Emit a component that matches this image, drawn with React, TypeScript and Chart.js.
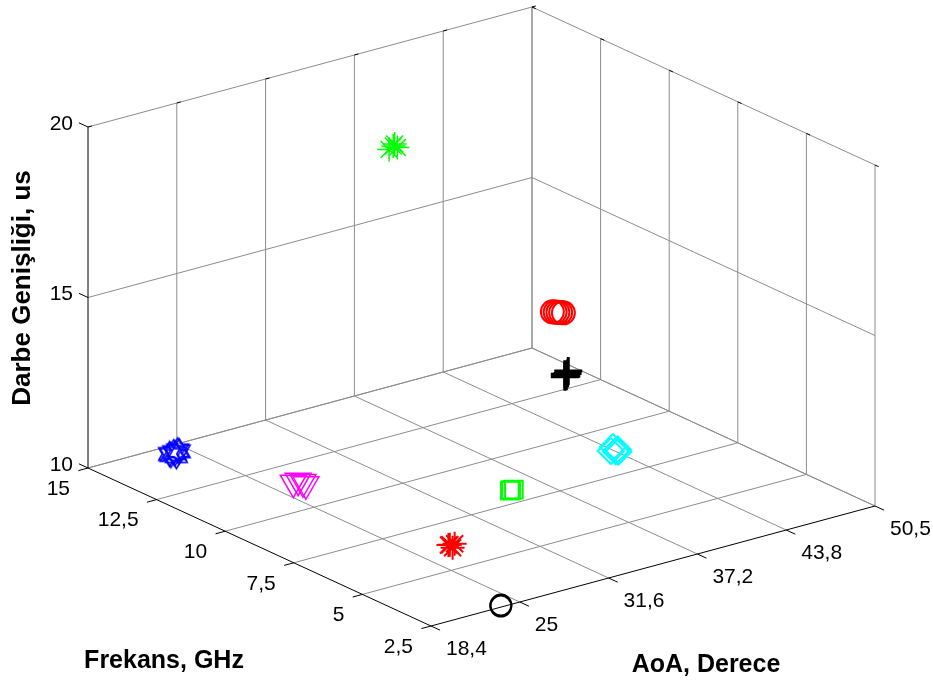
import React, { useEffect, useRef } from "react";
import { Chart, registerables } from "chart.js";

Chart.register(...registerables);

const W = 933;
const H = 688;

// ---- axes ----
const freqMin = 2.5;
const freqMax = 15;
const freqTicks = [2.5, 5, 7.5, 10, 12.5, 15];
const freqTickLabels = ["2,5", "5", "7,5", "10", "12,5", "15"];
const aoaMin = 18.4;
const aoaMax = 50.5;
const aoaTickLabels = ["18,4", "25", "31,6", "37,2", "43,8", "50,5"];
const pwMin = 10;
const pwMax = 20;
const pwTicks = [10, 15, 20];
const pwTickLabels = ["10", "15", "20"];

const xTitle = "Frekans, GHz";
const yTitle = "AoA, Derece";
const zTitle = "Darbe Genişliği, us";

// ---- emitters: [frekans GHz, AoA derece, darbe genişliği us] ----
const blueHexagram = [[14.6, 23.5, 10.0], [14.5, 23.9, 10.1], [14.7, 23.8, 9.9], [14.6, 24.2, 10.0], [14.4, 23.6, 10.0], [14.55, 23.7, 10.05], [14.65, 24.0, 9.95]];
const magentaTriangle = [[11.5, 26.3, 10.0], [11.45, 26.55, 10.05], [11.4, 26.8, 10.0], [11.42, 27.05, 9.9]];
const greenSquare = [[8.2, 35.5, 10.0], [8.15, 35.6, 10.02], [8.22, 35.45, 9.98]];
const redAsterisk = [[6.3, 27.3, 10.0], [6.2, 27.45, 10.05], [6.25, 27.4, 9.92], [6.3, 27.2, 10.0]];
const blackCircle = [[2.55, 23.55, 10.0], [2.6, 23.65, 10.0]];
const cyanDiamond = [[8.8, 43.9, 10.0], [8.7, 44.2, 10.05], [8.75, 44.35, 9.95], [8.8, 44.05, 10.1], [8.72, 44.1, 10.0]];
const blackPlus = [[13.25, 49.4, 10.0], [13.2, 49.55, 10.1], [13.3, 49.5, 9.9], [13.25, 49.6, 10.0], [13.22, 49.45, 9.95]];
const redCircle = [[13.3, 48.6, 11.9], [13.25, 48.7, 11.9], [13.2, 48.8, 11.9], [13.15, 48.9, 11.9], [13.1, 49.0, 11.9]];
const greenAsterisk = [[13.0, 36.5, 18.2], [13.05, 36.3, 18.1], [12.95, 36.7, 18.15], [13.0, 36.6, 18.25]];

// ---- view (orthographic projection of the 3D box onto the page) ----
const ORIGIN = { x: 88, y: 468 }; // frekans=15, AoA=18.4, PW=10
const VF = { x: 343, y: 158 }; // full frekans span (15 -> 2.5)
const VA = { x: 444, y: -120 }; // full AoA span
const VZ = { x: 0, y: -341 }; // full PW span

function project(f: number, a: number, z: number) {
  const u = (freqMax - f) / (freqMax - freqMin);
  const v = (a - aoaMin) / (aoaMax - aoaMin);
  const w = (z - pwMin) / (pwMax - pwMin);
  return {
    x: ORIGIN.x + u * VF.x + v * VA.x + w * VZ.x,
    y: ORIGIN.y + u * VF.y + v * VA.y + w * VZ.y,
  };
}

const aoaTicks = aoaTickLabels.map((_, i) => aoaMin + (i * (aoaMax - aoaMin)) / (aoaTickLabels.length - 1));

const FONT = "'Liberation Sans', Arial, Helvetica, sans-serif";
const GRID = "#8c8c8c";

function makeHexagram(color: string, r: number) {
  const c = document.createElement("canvas");
  const s = Math.ceil(r * 2 + 4);
  c.width = s;
  c.height = s;
  const ctx = c.getContext("2d")!;
  ctx.strokeStyle = color;
  ctx.lineWidth = 1.6;
  ctx.beginPath();
  for (let i = 0; i < 12; i++) {
    const ang = -Math.PI / 2 + (i * Math.PI) / 6;
    const rr = i % 2 === 0 ? r : r / Math.sqrt(3);
    const px = s / 2 + rr * Math.cos(ang);
    const py = s / 2 + rr * Math.sin(ang);
    if (i === 0) ctx.moveTo(px, py);
    else ctx.lineTo(px, py);
  }
  ctx.closePath();
  ctx.stroke();
  return c;
}

function lineDs(p1: any, p2: any, color: string, width: number, order: number) {
  return {
    data: [p1, p2],
    showLine: true,
    borderColor: color,
    borderWidth: width,
    pointRadius: 0,
    pointHoverRadius: 0,
    fill: false,
    order,
  };
}

function markerDs(points: number[][], color: string, style: any, radius: number, extra: any = {}) {
  return {
    data: points.map(([f, a, z]) => project(f, a, z)),
    showLine: false,
    pointStyle: style,
    pointRadius: radius,
    pointHoverRadius: radius,
    pointBorderColor: color,
    pointBackgroundColor: "rgba(0,0,0,0)",
    pointBorderWidth: 1.5,
    borderColor: color,
    backgroundColor: "rgba(0,0,0,0)",
    order: 0,
    ...extra,
  };
}

export default function App() {
  const ref = useRef<HTMLCanvasElement | null>(null);

  useEffect(() => {
    if (!ref.current) return;
    const datasets: any[] = [];

    // floor grid (PW = min)
    freqTicks.forEach((f) => {
      const isAxis = f === freqMin;
      datasets.push(lineDs(project(f, aoaMin, pwMin), project(f, aoaMax, pwMin), isAxis ? "#000" : GRID, 1, isAxis ? 5 : 10));
    });
    aoaTicks.forEach((a, i) => {
      const isAxis = i === 0;
      datasets.push(lineDs(project(freqMax, a, pwMin), project(freqMin, a, pwMin), isAxis ? "#000" : GRID, 1, isAxis ? 5 : 10));
    });
    // back-left wall (frekans = max)
    aoaTicks.forEach((a, i) => {
      const isAxis = i === 0;
      datasets.push(lineDs(project(freqMax, a, pwMin), project(freqMax, a, pwMax), isAxis ? "#000" : GRID, 1, isAxis ? 5 : 10));
    });
    pwTicks.forEach((z) => {
      datasets.push(lineDs(project(freqMax, aoaMin, z), project(freqMax, aoaMax, z), GRID, 1, 10));
    });
    // back-right wall (AoA = max)
    freqTicks.forEach((f) => {
      datasets.push(lineDs(project(f, aoaMax, pwMin), project(f, aoaMax, pwMax), GRID, 1, 10));
    });
    pwTicks.forEach((z) => {
      datasets.push(lineDs(project(freqMax, aoaMax, z), project(freqMin, aoaMax, z), GRID, 1, 10));
    });

    // emitters
    datasets.push(markerDs(blueHexagram, "#0000ff", makeHexagram("#0000ff", 12.5), 12.5));
    datasets.push(markerDs(magentaTriangle, "#ff00ff", "triangle", 15, { rotation: 180 }));
    datasets.push(markerDs(greenSquare, "#00ff00", "rect", 12.5, { pointBorderWidth: 2 }));
    datasets.push(markerDs(redAsterisk, "#ff0000", "star", 12, { pointBorderWidth: 2 }));
    datasets.push(markerDs(blackCircle, "#000000", "circle", 10.5, { pointBorderWidth: 2 }));
    datasets.push(markerDs(cyanDiamond, "#00ffff", "rectRot", 13, { pointBorderWidth: 2 }));
    datasets.push(markerDs(blackPlus, "#000000", "cross", 14, { pointBorderWidth: 3 }));
    datasets.push(markerDs(redCircle, "#ff0000", "circle", 11.5, { pointBorderWidth: 2 }));
    datasets.push(markerDs(greenAsterisk, "#00ff00", "star", 12, { pointBorderWidth: 1.5 }));

    const labelsPlugin = {
      id: "labels3d",
      afterDraw(chart: any) {
        const ctx = chart.ctx as CanvasRenderingContext2D;
        const xs = chart.scales.x;
        const ys = chart.scales.y;
        const px = (p: { x: number; y: number }) => ({ x: xs.getPixelForValue(p.x), y: ys.getPixelForValue(p.y) });
        const lenF = Math.hypot(VF.x, VF.y);
        const lenA = Math.hypot(VA.x, VA.y);
        const uf = { x: VF.x / lenF, y: VF.y / lenF };
        const ua = { x: VA.x / lenA, y: VA.y / lenA };
        ctx.save();
        ctx.strokeStyle = "#000";
        ctx.lineWidth = 1;
        // tick marks
        const tick = (p: any, d: any, L: number) => {
          const a = px(p);
          ctx.beginPath();
          ctx.moveTo(a.x, a.y);
          ctx.lineTo(a.x + d.x * L, a.y + d.y * L);
          ctx.stroke();
        };
        pwTicks.forEach((z) => tick(project(freqMax, aoaMin, z), { x: -uf.x, y: -uf.y }, 10));
        freqTicks.forEach((f) => tick(project(f, aoaMin, pwMin), { x: -ua.x, y: -ua.y }, 10));
        aoaTicks.forEach((a) => tick(project(freqMin, a, pwMin), uf, 10));
        // small tick marks on top edges
        aoaTicks.forEach((a) => tick(project(freqMax, a, pwMax), ua, 4));
        freqTicks.forEach((f) => tick(project(f, aoaMax, pwMax), uf, 4));

        ctx.fillStyle = "#000";
        ctx.font = `21px ${FONT}`;
        ctx.textBaseline = "middle";
        ctx.textAlign = "right";
        pwTicks.forEach((z, i) => {
          const p = px(project(freqMax, aoaMin, z));
          ctx.fillText(pwTickLabels[i], p.x - 15, p.y - 3);
        });
        freqTicks.forEach((f, i) => {
          const p = px(project(f, aoaMin, pwMin));
          ctx.fillText(freqTickLabels[i], p.x - 18, p.y + 21);
        });
        ctx.textAlign = "left";
        aoaTicks.forEach((a, i) => {
          const p = px(project(freqMin, a, pwMin));
          ctx.fillText(aoaTickLabels[i], p.x + 15, p.y + 23);
        });

        ctx.font = `bold 25px ${FONT}`;
        ctx.textAlign = "center";
        ctx.fillText(xTitle, xs.getPixelForValue(164), ys.getPixelForValue(661));
        ctx.fillText(yTitle, xs.getPixelForValue(706), ys.getPixelForValue(665));
        ctx.translate(xs.getPixelForValue(23), ys.getPixelForValue(288));
        ctx.rotate(-Math.PI / 2);
        ctx.font = `bold 26px ${FONT}`;
        ctx.fillText(zTitle, 0, 0);
        ctx.restore();
      },
    };

    const chart = new Chart(ref.current, {
      type: "scatter",
      data: { datasets },
      options: {
        animation: false,
        responsive: false,
        devicePixelRatio: 1,
        layout: { padding: 0, autoPadding: false },
        plugins: { legend: { display: false }, tooltip: { enabled: false } },
        events: [],
        scales: {
          x: { type: "linear", min: 0, max: W, display: false },
          y: { type: "linear", min: 0, max: H, reverse: true, display: false },
        },
        elements: { line: { tension: 0 } },
      } as any,
      plugins: [labelsPlugin],
    });
    return () => chart.destroy();
  }, []);

  return (
    <div style={{ position: "fixed", left: 0, top: 0, width: W, height: H, background: "#fff" }}>
      <canvas ref={ref} width={W} height={H} style={{ display: "block" }} />
    </div>
  );
}
